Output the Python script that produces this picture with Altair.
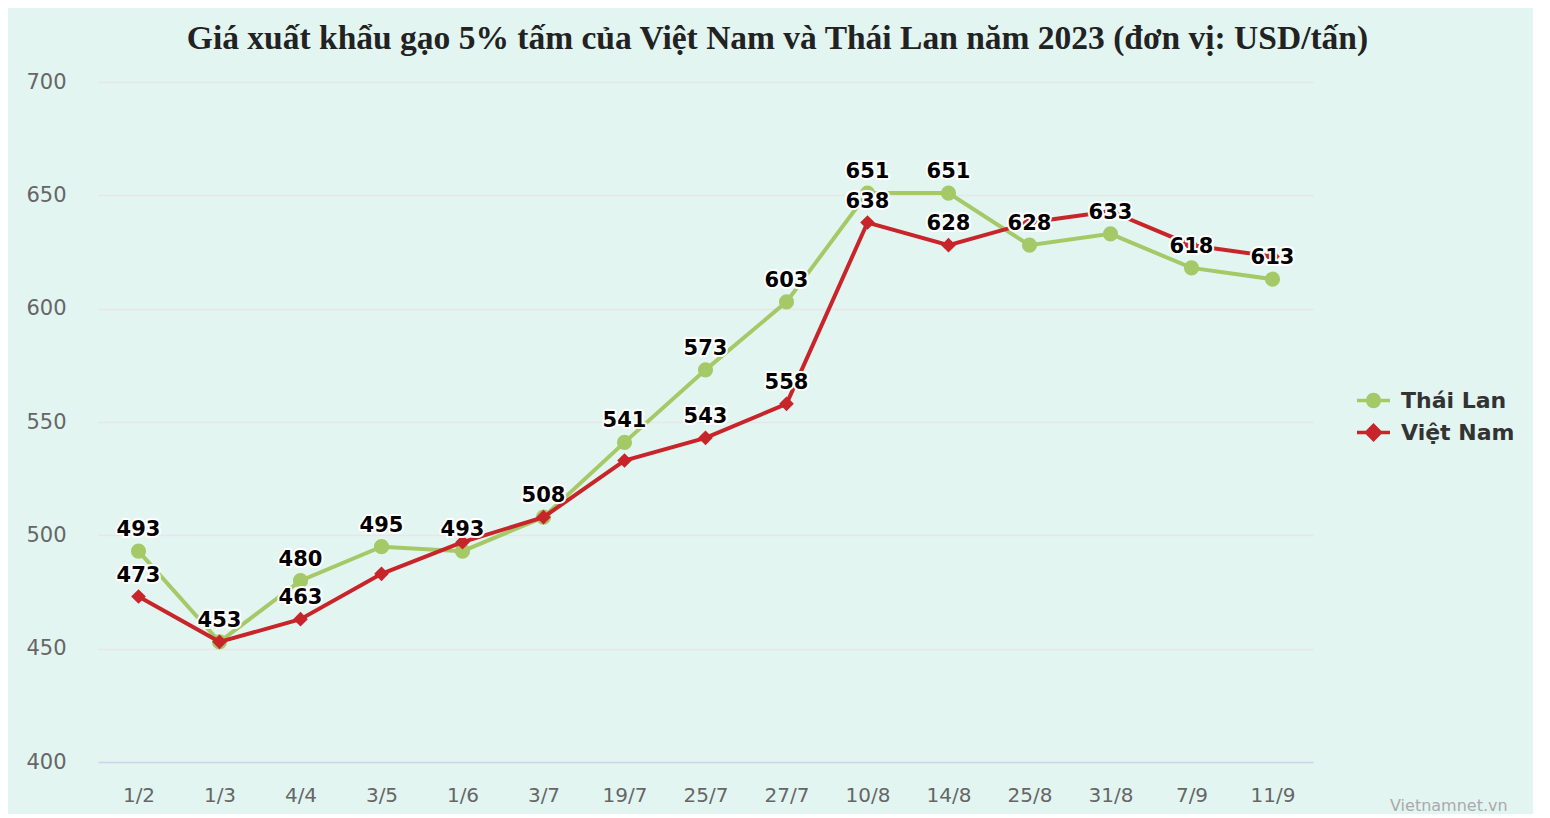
import altair as alt
import pandas as pd

# ---------------- data ----------------
dates = ["1/2", "1/3", "4/4", "3/5", "1/6", "3/7", "19/7", "25/7", "27/7",
         "10/8", "14/8", "25/8", "31/8", "7/9", "11/9"]
thai = [493, 453, 480, 495, 493, 508, 541, 573, 603, 651, 651, 628, 633, 618, 613]
viet = [473, 453, 463, 483, 497, 508, 533, 543, 558, 638, 628, 638, 643, 628, 623]
series_names = ["Thái Lan", "Việt Nam"]
viet_label_dates = ["1/2", "4/4", "25/7", "27/7", "10/8", "14/8"]
y_ticks = [400, 450, 500, 550, 600, 650, 700]
title_text = "Giá xuất khẩu gạo 5% tấm của Việt Nam và Thái Lan năm 2023 (đơn vị: USD/tấn)"
credit = ["Vietnamnet.vn"]

GREEN = "#a5c967"
RED = "#c8252b"
BG = "#e3f5f1"
FONT = "DejaVu Sans"

rows = []
for d, v in zip(dates, thai):
    rows.append({"date": d, "series": series_names[0], "value": v, "show": True})
for d, v in zip(dates, viet):
    rows.append({"date": d, "series": series_names[1], "value": v,
                 "show": d in viet_label_dates})
df = pd.DataFrame(rows)

x_enc = alt.X(
    "date:N", sort=dates,
    scale=alt.Scale(type="point", padding=0.5),
    axis=alt.Axis(title=None, labelAngle=0, ticks=False, grid=False,
                  domainColor="#ccd6eb", domainWidth=1.5,
                  labelFont=FONT, labelFontSize=20, labelColor="#666666",
                  labelPadding=23),
)
y_enc = alt.Y(
    "value:Q",
    scale=alt.Scale(domain=[400, 700], nice=False, zero=False),
    axis=alt.Axis(title=None, values=y_ticks, domain=False, ticks=False,
                  grid=True, gridColor="#e6e6e6", gridWidth=1.5,
                  labelFont=FONT, labelFontSize=21, labelColor="#666666",
                  labelPadding=32, minExtent=90, maxExtent=90),
)

base = alt.Chart(df).encode(x=x_enc, y=y_enc)

thai_f = alt.datum.series == series_names[0]
viet_f = alt.datum.series == series_names[1]

thai_line = base.transform_filter(thai_f).mark_line(color=GREEN, strokeWidth=4)
thai_pts = base.transform_filter(thai_f).mark_point(
    shape="circle", filled=True, color=GREEN, size=230, opacity=1)
viet_line = base.transform_filter(viet_f).mark_line(color=RED, strokeWidth=4)
viet_pts = base.transform_filter(viet_f).mark_point(
    shape="diamond", filled=True, color=RED, size=215, opacity=1)

lab_base = base.transform_filter(alt.datum.show).encode(text="value:Q")
labels_halo = lab_base.mark_text(
    font=FONT, fontSize=21, fontWeight="bold", fill="white", stroke="white",
    strokeWidth=4, strokeJoin="round", baseline="alphabetic", dy=-15)
labels = lab_base.mark_text(
    font=FONT, fontSize=21, fontWeight="bold", fill="#000000",
    baseline="alphabetic", dy=-15)

# legend: symbol = line segment with marker
circ_path = "M-1,0H1M-0.36,0A0.36,0.36,0,1,1,0.36,0A0.36,0.36,0,1,1,-0.36,0Z"
diam_path = "M-1,0H1M0,-0.42L0.42,0L0,0.42L-0.42,0Z"
leg = alt.Legend(title=None, orient="none", legendX=1257, legendY=300,
                 symbolSize=1089, symbolStrokeWidth=3.5, padding=0,
                 labelFont=FONT, labelFontSize=22, labelFontWeight="bold",
                 labelColor="#333333", labelOffset=9, rowPadding=-2,
                 symbolOpacity=1)
legend_layer = alt.Chart(df).transform_filter("false").mark_point(
    filled=True, opacity=1, strokeWidth=3.5).encode(
    fill=alt.Fill("series:N", scale=alt.Scale(domain=series_names, range=[GREEN, RED]), legend=leg),
    stroke=alt.Stroke("series:N", scale=alt.Scale(domain=series_names, range=[GREEN, RED]), legend=leg),
    shape=alt.Shape("series:N", scale=alt.Scale(domain=series_names, range=[circ_path, diam_path]), legend=leg),
)

credit_layer = alt.Chart(pd.DataFrame({"t": credit})).mark_text(
    font=FONT, fontSize=16, color="#aaaaaa", align="left", baseline="top").encode(
    text="t:N", x=alt.value(1292), y=alt.value(716))

chart = alt.layer(
    thai_line, thai_pts, viet_line, viet_pts, labels_halo, labels,
    legend_layer, credit_layer,
).properties(
    width=1215, height=680,
    title=alt.TitleParams(text=title_text, font="Liberation Serif", fontSize=33.5,
                          fontWeight="bold", color="#222222", anchor="middle",
                          dx=72, offset=15),
    padding={"left": 0, "top": 13, "right": 18, "bottom": 0},
).configure(background=BG).configure_view(stroke=None)

chart.save("out.html", embed_options={"renderer": "svg", "actions": False})
